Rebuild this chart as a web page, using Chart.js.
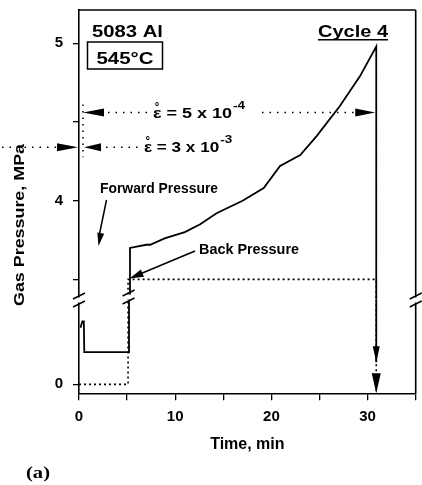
<!DOCTYPE html>
<html lang="en">
  <head>
    <meta charset="utf-8" />
    <title>Gas pressure, cycle 4</title>
    <style>
      * {
        margin: 0;
        padding: 0;
      }
      body {
        background: #fff;
      }
      .chartBox {
        width: 422px;
        height: 485px;
      }
    </style>
  </head>
  <body>
    <div class="chartBox">
      <canvas id="myChart" width="422" height="485"></canvas>
    </div>

    <script src="https://cdn.jsdelivr.net/npm/chart.js@4.4.0/dist/chart.umd.min.js"></script>

    <script>
      // forward pressure, lower part of the broken axis (MPa)
      const fwdLowTime = [0.15, 0.35, 0.5, 0.55, 5.2, 5.2];
      const fwdLowPress = [0.36, 0.4, 0.4, 0.205, 0.205, 0.54];

      // forward pressure, upper part (MPa)
      const fwdTime = [5.2, 5.3, 7.0, 7.4, 8.9, 11.0, 12.6, 14.3, 17.0, 19.2, 20.9, 23.0, 24.7, 27.1, 29.2, 30.9, 30.9];
      const fwdPress = [3.37, 3.7, 3.72, 3.72, 3.76, 3.8, 3.85, 3.92, 4.0, 4.08, 4.22, 4.29, 4.41, 4.6, 4.79, 4.98, 3.37];

      // release at end of cycle, lower part
      const dropTime = [30.9, 30.9];
      const dropPress = [0.54, 0.14];

      // back pressure
      const backLowTime = [0, 5.1, 5.1];
      const backLowPress = [0, 0, 0.54];
      const backTime = [5.1, 5.1, 30.9, 30.9];
      const backPress = [3.37, 3.5, 3.5, 3.37];
      const backDropTime = [30.9, 30.9];
      const backDropPress = [0.54, -0.05];

      // strain rate levels
      const rateText = [" = 5 x 10", " = 3 x 10"];
      const rateExp = ["-4", "-3"];
      const ratePress = [4.56, 4.34];

      // ticks
      const xTicks = [0, 5, 10, 15, 20, 25, 30, 35];
      const yLowTicks = [0];
      const yTicks = [3.5, 4, 4.5, 5];

      const pts = (ts, ps) => ts.map((t, i) => ({ x: t, y: ps[i] }));
      const sans = "'Liberation Sans', Arial, sans-serif";
      const font = (size) => ({ family: sans, size: size, weight: "bold" });

      const noPad = (s) => {
        s.paddingLeft = 0;
        s.paddingRight = 0;
        s.paddingTop = 0;
        s.paddingBottom = 0;
      };

      // text stretched to a given width
      function label(ctx, str, x, y, f, w) {
        ctx.save();
        ctx.font = f;
        const m = ctx.measureText(str).width;
        ctx.translate(x, y);
        ctx.scale(w ? w / m : 1, 1);
        ctx.textAlign = "left";
        ctx.textBaseline = "alphabetic";
        ctx.fillText(str, 0, 0);
        ctx.restore();
      }

      // strain rate: epsilon with ring above, then the rest
      function rate(ctx, rest, x, y, sx) {
        ctx.save();
        ctx.font = "bold 15px " + sans;
        ctx.textBaseline = "alphabetic";
        ctx.textAlign = "left";
        const ew = ctx.measureText("\u03b5").width * sx;
        label(ctx, "\u03b5", x, y, "bold 15px " + sans, ew);
        ctx.textAlign = "center";
        ctx.font = "bold 14px " + sans;
        ctx.fillText("\u02da", x + ew / 2, y - 4);
        ctx.restore();
        ctx.save();
        ctx.font = "bold 15px " + sans;
        const rw = ctx.measureText(rest).width * sx;
        ctx.restore();
        label(ctx, rest, x + ew, y, "bold 15px " + sans, rw);
        return x + ew + rw;
      }

      function head(ctx, x, y, ang, len, hw) {
        ctx.save();
        ctx.translate(x, y);
        ctx.rotate(ang);
        ctx.beginPath();
        ctx.moveTo(0, 0);
        ctx.lineTo(-len, -hw);
        ctx.lineTo(-len, hw);
        ctx.closePath();
        ctx.fill();
        ctx.restore();
      }

      function seg(ctx, x1, y1, x2, y2, dash, lw) {
        ctx.save();
        ctx.setLineDash(dash || []);
        ctx.lineWidth = lw || 1.6;
        ctx.beginPath();
        ctx.moveTo(x1, y1);
        ctx.lineTo(x2, y2);
        ctx.stroke();
        ctx.restore();
      }

      function breakMark(ctx, x, y) {
        ctx.fillStyle = "#fff";
        ctx.fillRect(x - 3, y - 2.5, 6, 5);
        ctx.fillStyle = "#000";
        [-4, 4].forEach((d) => seg(ctx, x - 6, y + d + 3, x + 6, y + d - 3, [], 1.4));
      }

      // annotations block
      const annotations = {
        id: "annotations",
        afterDraw(chart) {
          const {
            ctx,
            chartArea: { left, right, top, bottom },
            scales: { x, y, y2 },
          } = chart;
          ctx.save();
          ctx.strokeStyle = "#000";
          ctx.fillStyle = "#000";

          // frame top and right
          seg(ctx, left, top, right, top, [], 1.6);
          seg(ctx, right, top, right, bottom, [], 1.6);

          // axis breaks
          const yb = y2.bottom;
          breakMark(ctx, left, yb);
          breakMark(ctx, right, yb);
          breakMark(ctx, x.getPixelForValue(5.15), yb - 3);

          // titles in the corner
          label(ctx, "5083 Al", 92, 36.5, "bold 16px " + sans, 71);
          ctx.lineWidth = 1.5;
          ctx.strokeRect(87.5, 42, 75, 27);
          label(ctx, "545\u00b0C", 96.5, 64, "bold 17px " + sans, 57);
          label(ctx, "Cycle 4", 318, 36.5, "bold 16px " + sans, 70);
          ctx.fillRect(318, 39, 70, 1.5);

          // strain rate arrows
          const xEnd = x.getPixelForValue(30.9);
          const r0 = y2.getPixelForValue(ratePress[0]);
          const r1 = y2.getPixelForValue(ratePress[1]);
          const dots = [1.5, 6];
          head(ctx, 83, r0, Math.PI, 21, 4);
          seg(ctx, 108, r0, 148, r0, dots, 1.6);
          let e = rate(ctx, rateText[0], 153, r0 + 5, 1.2);
          label(ctx, rateExp[0], e + 1, r0 - 4, "bold 10px " + sans, 12);
          seg(ctx, 262, r0, xEnd - 20, r0, dots, 1.6);
          head(ctx, xEnd - 1, r0, 0, 20, 4);

          seg(ctx, 2, r1, 56, r1, dots, 1.6);
          head(ctx, left - 1, r1, 0, 21, 4);
          head(ctx, 84, r1, Math.PI, 17, 4);
          seg(ctx, 106, r1, 138, r1, dots, 1.6);
          e = rate(ctx, rateText[1], 144, r1 + 5, 1.14);
          label(ctx, rateExp[1], e + 1, r1 - 4, "bold 10px " + sans, 12);
          seg(ctx, 83, r0 - 8, 83, r1 + 10, [1.5, 5], 1.5);

          // pressure labels
          label(ctx, "Forward Pressure", 100, 193, "bold 14px " + sans, 118);
          seg(ctx, 106.5, 200, 99.5, 234, [], 1.5);
          head(ctx, 98.5, 246, Math.atan2(46, -8), 13, 3.5);
          label(ctx, "Back Pressure", 199, 254, "bold 14px " + sans, 100);
          seg(ctx, 195, 251, 140, 274, [], 1.5);
          head(ctx, 129.5, 278.5, Math.atan2(27.5, -65.5), 14, 4);

          // release arrows
          head(ctx, xEnd, y.getPixelForValue(dropPress[1]), Math.PI / 2, 16, 3.5);
          head(ctx, xEnd, bottom, Math.PI / 2, 20, 4.5);

          // axis title and panel letter
          ctx.save();
          ctx.translate(20, 225);
          ctx.rotate(-Math.PI / 2);
          ctx.font = "bold 15px " + sans;
          const t = "Gas Pressure, MPa";
          const m = ctx.measureText(t).width;
          ctx.scale(162 / m, 1);
          ctx.textAlign = "center";
          ctx.textBaseline = "middle";
          ctx.fillText(t, 0, 0);
          ctx.restore();
          label(ctx, "(a)", 26, 478, "bold 16px 'Liberation Serif', serif", 24);

          ctx.restore();
        },
      };

      const solid = { borderColor: "#000", borderWidth: 1.8, pointRadius: 0, showLine: true, tension: 0 };
      const dotted = { borderColor: "#000", borderWidth: 1.6, borderDash: [2, 3], pointRadius: 0, showLine: true, tension: 0 };

      const data = {
        datasets: [
          { ...solid, data: pts(fwdLowTime, fwdLowPress), yAxisID: "y" },
          { ...solid, data: pts(fwdTime, fwdPress), yAxisID: "y2" },
          { ...solid, data: pts(dropTime, dropPress), yAxisID: "y" },
          { ...dotted, data: pts(backLowTime, backLowPress), yAxisID: "y" },
          { ...dotted, data: pts(backTime, backPress), yAxisID: "y2" },
          { ...dotted, data: pts(backDropTime, backDropPress), yAxisID: "y" },
        ],
      };

      const yCommon = {
        type: "linear",
        position: "left",
        stack: "press",
        afterFit: (s) => {
          s.width = 79;
          noPad(s);
        },
        ticks: {
          callback: (v) => (Number.isInteger(v) ? v : ""),
          font: font(15),
          color: "#000",
          padding: 10,
          autoSkip: false,
        },
        grid: { drawOnChartArea: false, drawTicks: true, tickLength: 6, color: "#000", lineWidth: 1.3 },
        border: { color: "#000", width: 1.6 },
      };

      const config = {
        type: "scatter",
        data: data,
        options: {
          responsive: false,
          animation: false,
          events: [],
          layout: { padding: { top: 10, right: 6.3, bottom: 26.9, left: 0 } },
          plugins: { legend: { display: false }, tooltip: { enabled: false } },
          scales: {
            x: {
              type: "linear",
              position: "bottom",
              min: 0,
              max: 35,
              afterBuildTicks: (s) => {
                s.ticks = xTicks.map((v) => ({ value: v }));
              },
              afterFit: (s) => {
                s.height = 64.8;
                noPad(s);
              },
              ticks: {
                callback: (v) => (v % 10 === 0 ? v : ""),
                font: font(15),
                color: "#000",
                padding: 8,
                maxRotation: 0,
                autoSkip: false,
              },
              grid: { drawOnChartArea: false, drawTicks: true, tickLength: 7, color: "#000", lineWidth: 1.3 },
              border: { color: "#000", width: 1.6 },
              title: { display: true, text: "Time, min", font: font(16), color: "#000", padding: { top: 4, bottom: 4 } },
            },
            y: {
              ...yCommon,
              weight: 0,
              stackWeight: 93.3,
              min: -0.057,
              max: 0.5356,
              afterBuildTicks: (s) => {
                s.ticks = yLowTicks.map((v) => ({ value: v }));
              },
            },
            y2: {
              ...yCommon,
              weight: 1,
              stackWeight: 290,
              min: 3.369,
              max: 5.2116,
              afterBuildTicks: (s) => {
                s.ticks = yTicks.map((v) => ({ value: v }));
              },
            },
          },
        },
        plugins: [annotations],
      };

      const myChart = new Chart(document.getElementById("myChart"), config);
    </script>
  </body>
</html>
